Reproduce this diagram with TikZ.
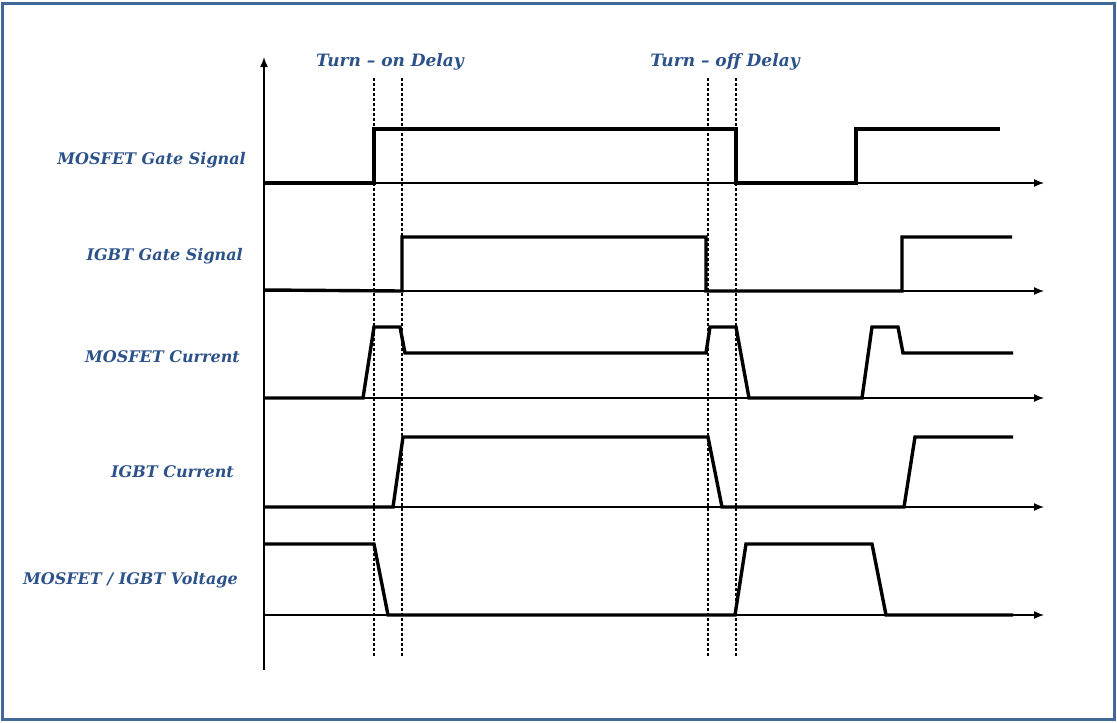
\documentclass[tikz,border=0pt]{standalone}
\usepackage{fontspec}
\setmainfont{DejaVu Serif}
\usetikzlibrary{arrows.meta}
\definecolor{frameblue}{RGB}{66,104,152}
\definecolor{labelblue}{RGB}{44,82,138}
\begin{document}
\begin{tikzpicture}[x=1pt,y=-1pt,
  sig/.style={line width=3.4pt, line join=miter},
  axisline/.style={line width=1.3pt,-{Latex[length=10pt,width=8pt]}},
  guide/.style={line width=1.3pt, dash pattern=on 3pt off 2pt},
  lbl/.style={font=\fontsize{16}{18}\selectfont\bfseries\itshape, text=labelblue, inner sep=0pt},
  dlbl/.style={font=\fontsize{17}{19}\selectfont\bfseries\itshape, text=labelblue, inner sep=0pt},
]
\useasboundingbox (0,0) rectangle (1117,723);
\draw[frameblue, line width=3pt] (2.5,3.5) rectangle (1114.5,719.5);

% vertical axis
\coordinate (yb) at (264,670);
\coordinate (yt) at (264,57);
\draw[line width=1.5pt,-{Latex[length=10pt,width=8pt]}] (yb) -- (yt);

% time axes
\foreach \y in {183,291,398,507,615}{
  \draw[axisline] (264,\y) -- (1044,\y);
}

% delay guides
\foreach \x in {374,402,708,736}{
  \draw[guide] (\x,78) -- (\x,657);
}

% MOSFET gate signal
\draw[sig] (264,183) -- (374,183) -- (374,129) -- (736,129) -- (736,183) -- (856,183) -- (856,129) -- (1000,129);
% IGBT gate signal
\draw[sig] (264,290) -- (402,291) -- (402,237) -- (706,237) -- (706,291) -- (902,291) -- (902,237) -- (1012,237);
% MOSFET current
\draw[sig] (264,398) -- (363,398) -- (374,327) -- (400,327) -- (405,353) -- (706,353) -- (710,327) -- (736,327) -- (749,398) -- (862,398) -- (872,327) -- (898,327) -- (903,353) -- (1013,353);
% IGBT current
\draw[sig] (264,507) -- (393,507) -- (403,437) -- (708,437) -- (722,507) -- (904,507) -- (915,437) -- (1013,437);
% Voltage
\draw[sig] (264,544) -- (374,544) -- (388,615) -- (735,615) -- (746,544) -- (872,544) -- (886,615) -- (1013,615);

% labels
\node[lbl, anchor=east] (l1) at (246,160) {MOSFET Gate Signal};
\node[lbl, anchor=east] (l2) at (243,256) {IGBT Gate Signal};
\node[lbl, anchor=east] (l3) at (240,357) {MOSFET Current};
\node[lbl, anchor=east] (l4) at (234,472) {IGBT Current};
\node[lbl, anchor=east] (l5) at (238,580) {MOSFET / IGBT Voltage};
\node[dlbl] (ton) at (390,62) {Turn – on Delay};
\node[dlbl] (toff) at (725,62) {Turn – off Delay};
\end{tikzpicture}
\end{document}
